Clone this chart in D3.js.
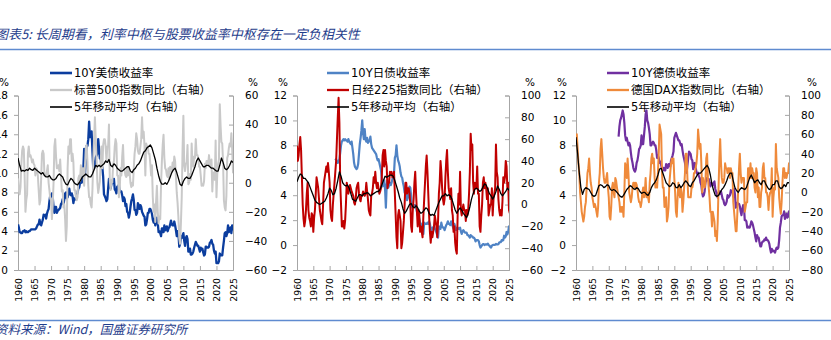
<!DOCTYPE html>
<html><head><meta charset="utf-8">
<script src="https://cdn.jsdelivr.net/npm/d3@7"></script>
<style>body{margin:0;background:#fff}svg{display:block}</style>
</head><body>
<svg id="c" width="831" height="340"></svg>
<script>
// ---------- tick labels ----------
const xTickYears = [1960,1965,1970,1975,1980,1985,1990,1995,2000,2005,2010,2015,2020,2025];
const titleText = "图表5: 长周期看，利率中枢与股票收益率中枢存在一定负相关性";
const sourceText = "资料来源：Wind，国盛证券研究所";

// ---------- Panel 1: US (quarterly from 1960.0) ----------
const usYield = [
4.7,4.4,3.9,3.9, 3.8,3.8,4.0,4.0, 4.1,3.9,4.0,3.9, 3.9,4.0,4.0,4.1, 4.2,4.2,4.2,4.2,
4.2,4.2,4.3,4.5, 4.7,4.7,5.2,4.8, 4.6,4.9,5.2,5.7, 5.6,5.7,5.3,5.8, 6.1,6.3,7.1,7.7,
7.6,7.9,7.5,6.5, 5.9,6.5,6.5,5.9, 6.1,6.2,6.3,6.4, 6.8,6.9,7.3,6.8, 7.3,7.9,8.0,7.4,
7.5,8.0,8.4,7.8, 7.7,7.9,7.6,6.9, 7.4,7.3,7.3,7.7, 8.0,8.4,8.5,9.0, 9.1,9.0,9.3,10.4,
12.5,9.8,11.5,12.8, 12.8,13.5,15.3,13.7, 14.1,14.3,12.3,10.5, 10.5,11.0,11.6,11.8, 12.0,13.5,12.5,11.5,
11.6,10.5,10.6,9.6, 7.8,7.6,7.4,7.1, 7.3,8.4,9.4,8.9, 8.4,8.9,9.0,9.0, 9.4,8.3,8.2,7.9,
8.6,8.5,8.8,8.1, 8.1,8.1,7.7,7.1, 7.5,7.3,6.6,6.8, 6.0,5.9,5.4,5.8, 6.5,7.1,7.4,7.8,
7.2,6.2,6.2,5.7, 5.9,6.9,6.7,6.3, 6.7,6.5,6.0,5.8, 5.6,5.5,4.6,4.7, 5.2,5.9,5.9,6.3,
6.3,6.1,5.8,5.2, 4.9,5.3,4.6,5.0, 5.4,4.9,3.9,4.0, 3.8,3.5,4.3,4.3, 3.9,4.6,4.1,4.2,
4.5,4.0,4.3,4.4, 4.7,5.1,4.7,4.6, 4.6,5.0,4.6,4.1, 3.5,4.0,3.8,2.4, 2.7,3.5,3.3,3.6,
3.8,3.0,2.5,3.3, 3.5,3.2,1.9,1.9, 2.2,1.6,1.6,1.7, 1.9,2.3,2.6,2.9, 2.7,2.5,2.5,2.2,
1.9,2.3,2.1,2.2, 1.8,1.5,1.6,2.4, 2.4,2.3,2.3,2.4, 2.8,2.9,3.1,2.7, 2.6,2.0,1.7,1.9,
0.7,0.7,0.7,0.9, 1.7,1.5,1.5,1.5, 2.3,3.0,3.8,3.9, 3.5,3.8,4.6,3.9, 4.2,4.4,3.8,4.6,
4.2,4.4];
const spYoY = [
3,-5,-8,-3, 12,22,25,23, 5,-20,-12,-8, 20,25,18,19, 17,14,16,13,
12,5,10,9, 5,-5,-15,-12, 3,20,22,20, 5,5,5,8, 12,0,-5,-11,
-12,-25,-15,0, 25,30,18,10, 10,12,8,16, 5,-6,-5,-17, -15,-25,-40,-30,
10,25,20,30, 30,15,20,14, -5,-5,-10,-12, -10,3,5,1, 12,5,10,10,
-2,12,24,26, 15,-2,-10,-10, -15,-17,-5,15, 30,45,30,17, 0,-7,-3,1,
15,25,10,26, 30,30,25,15, 25,25,40,2, -5,2,0,12, 15,25,30,27,
5,5,-10,-5, 10,5,18,26, 10,8,5,4, 10,5,10,7, 0,-3,0,-2,
10,20,25,34, 30,22,20,20, 25,30,45,31, 35,25,5,27, 25,25,20,20,
13,5,12,-10, -20,-15,-27,-13, -2,-20,-28,-23, -25,-1,15,26, 33,17,10,9,
5,4,10,3, 11,8,8,14, 10,18,15,4, -7,-14,-24,-38, -42,-28,-10,23,
46,12,8,13, 14,26,-1,0, 6,2,27,13, 11,18,17,30, 19,19,17,11,
11,5,-2,-1, -2,1,13,10, 15,15,13,19, 12,12,16,-6, 7,7,2,29,
-10,6,13,16, 54,39,28,27, 14,-12,-17,-19, -9,17,19,24, 27,25,34,23,
7,12];
// 5-year moving average, half-yearly from 1960.0
const spMA = [
17,12, 8,8.5, 8,9, 8.5,10, 9,8.5, 10,9, 8,7, 6,7, 5,4, 4,5,
3,2, 2,3, 5,6, 5,4, 1,-1, -1.5,1, 3,2, 0,-1, -1.5,0, 2,4,
5,6, 5,4, 4,6, 9,12, 11,12, 11,12, 13,15, 14,16, 12,11, 13,12,
10,9, 8,8, 9,10, 11,11, 8,7, 9,10, 12,13, 15,18, 21,22, 24,25,
26,24, 20,16, 10,5, 1,-1, -1,0, -1,1, 4,7, 9,10, 7,3, -1,-2,
1,3, 4,3, 3,5, 8,11, 15,17, 15,13, 11,11, 12,12, 11,10, 10,9,
8,8, 12,17, 14,10, 9,10, 12,15, 14];

// ---------- Panel 2: Japan ----------
// JGB 10Y, quarterly from 1971.75
const jgbYield = [6.8,
6.9,6.7,6.6,6.7, 6.9,7.4,8.0,8.3, 8.4,8.5,8.4,8.5, 8.4,8.4,8.3,8.5, 8.3,8.2,8.1,8.3,
7.8,7.3,6.6,6.3, 6.2,6.1,6.2,6.5, 7.3,8.1,8.6,9.2, 10.0,9.0,8.5,9.3, 8.5,8.3,8.6,8.2,
8.3,8.4,8.7,8.1, 7.8,7.7,7.6,7.5, 7.4,7.3,7.0,6.8, 6.9,6.6,6.3,6.0, 5.3,4.7,4.9,5.2,
4.5,3.0,4.8,5.2, 4.6,4.8,5.0,4.8, 5.0,5.3,5.5,5.8, 7.0,7.2,8.0,7.2, 6.8,6.6,6.3,5.8,
5.5,5.4,5.0,4.7, 4.2,4.4,3.9,3.6, 3.8,4.2,4.7,4.6, 3.9,3.0,3.0,3.1, 3.2,3.2,3.0,2.7,
2.4,2.4,2.1,1.8, 1.7,1.5,1.2,0.9, 1.8,1.7,1.7,1.7, 1.8,1.7,1.9,1.7, 1.3,1.2,1.4,1.4,
1.5,1.3,1.2,1.0, 0.8,0.6,1.5,1.4, 1.3,1.8,1.5,1.4, 1.4,1.2,1.4,1.6, 1.7,1.9,1.7,1.7,
1.6,1.9,1.7,1.5, 1.3,1.7,1.5,1.2, 1.3,1.4,1.3,1.3, 1.4,1.1,0.9,1.1, 1.2,1.1,1.0,1.0,
1.0,0.8,0.8,0.7, 0.6,0.8,0.7,0.7, 0.6,0.6,0.5,0.3, 0.4,0.4,0.4,0.3, 0.0,-0.2,-0.1,0.0,
0.07,0.08,0.0,0.05, 0.05,0.04,0.12,0.0, -0.05,-0.15,-0.2,-0.05, 0.0,0.02,0.02,0.02, 0.1,0.05,0.05,0.07,
0.2,0.23,0.24,0.4, 0.35,0.4,0.75,0.6, 0.7,1.05,0.85,1.05, 1.5,1.4];
// Nikkei 225 YoY, quarterly from 1960.0
const nkYoY = [
54,40,45,55, 62,50,25,0, -13,-20,-15,-5, 10,20,-5,-12, -15,-20,-8,-10,
-25,-12,-5,10, 25,20,15,5, -5,-10,-15,-18, 0,20,25,30, 35,30,38,30,
20,-5,-12,-15, 0,10,20,30, 40,60,80,98, 75,20,0,-20, -20,-15,-22,-15,
0,20,15,10, 15,18,15,12, 10,8,2,0, 5,15,18,20, 10,5,3,8,
8,12,10,8, 10,20,12,5, -5,-8,-10,8, 10,15,25,20, 30,20,15,20,
15,10,12,15, 25,45,50,35, 50,40,35,15, 20,20,30,28, 30,25,25,30,
10,-10,-30,-40, -10,-5,-10,-15, -40,-35,-25,-15, 0,20,20,10, 15,15,10,0,
-20,-25,-5,5, 20,30,10,-5, -20,-5,-10,-25, -20,-25,-30,-10, 5,20,35,45,
30,10,-10,-25, -35,-25,-30,-25, -20,-10,-15,-20, -30,-15,10,20, 40,30,15,5,
0,5,25,40, 50,30,15,10, 5,15,-5,-10, -25,-20,-35,-42, -45,-10,10,0,
30,-5,-10,-5, 0,-5,-5,-15, -5,-10,-5,10, 30,65,50,55, 20,10,20,15,
15,35,10,10, -20,-25,-10,0, 20,25,15,20, 15,5,15,-10, -5,0,0,15,
-10,5,10,15, 55,30,25,5, -5,-10,-5,-10, 3,25,20,25, 40,35,15,20,
-5,-8];
const nkMA = [
21,25, 28,27, 24,24, 22,20, 16,12, 8,4, 2,1, 0,1, 2,3, 6,10,
15,13, 9,10, 15,22, 30,26, 20,18, 17,18, 15,10, 5,4, 3,6, 9,9,
8,10, 10,11, 10,8, 9,10, 11,12, 12,14, 18,22, 26,25, 26,27, 27,26,
22,17, 12,6, 2,-4, -8,-6, -3,0, 1,-2, -3,-1, -3,-6, -8,-7, -5,-3,
-4,-8, -10,-9, -10,-6, -2,2, 5,8, 8,10, 8,9, 8,5, 0,-5, -8,-5,
-3,-5, -8,-10, -12,-8, -2,5, 10,14, 15,14, 12,13, 16,19, 18,14, 10,8,
5,8, 12,17, 14,10, 8,10, 12,15, 13];

// ---------- Panel 3: Germany ----------
// Bund 10Y, quarterly from 1973.0
const bundYield = [
8.7,9.5,10.0,10.2, 10.5,10.8,10.5,9.8, 8.8,8.4,8.6,8.3, 8.0,8.2,8.0,7.4, 6.9,6.6,6.2,6.0,
5.9,6.1,6.6,6.8, 7.2,7.7,7.8,8.0, 8.8,8.1,8.1,8.8, 9.5,10.5,10.8,10.0, 9.8,9.4,8.9,8.0,
8.0,8.2,8.3,8.2, 8.0,8.0,7.6,7.0, 7.2,7.0,6.6,6.7, 6.4,6.1,6.0,6.2, 6.0,6.0,6.5,6.3,
6.2,6.5,6.5,6.3, 6.8,7.0,7.2,7.5, 8.6,8.8,9.0,8.8, 8.6,8.4,8.4,8.2, 8.0,8.1,7.6,7.2,
6.9,6.6,6.1,5.8, 6.4,7.0,7.5,7.4, 7.3,6.9,6.8,6.1, 6.5,6.6,6.2,5.9, 5.7,5.8,5.5,5.4,
5.0,4.8,4.2,3.9, 4.0,4.3,5.0,5.2, 5.4,5.2,5.3,5.0, 4.7,5.0,4.9,4.8, 5.0,5.1,4.5,4.3,
4.0,3.8,4.2,4.3, 4.1,4.3,4.0,3.7, 3.6,3.3,3.2,3.3, 3.5,4.0,3.8,3.9, 4.0,4.4,4.3,4.3,
3.9,4.5,4.1,3.0, 3.1,3.4,3.3,3.3, 3.1,2.7,2.4,2.9, 3.2,3.1,2.0,2.0, 1.9,1.4,1.5,1.4,
1.4,1.6,1.9,1.8, 1.6,1.3,1.0,0.6, 0.3,0.8,0.6,0.6, 0.2,-0.1,-0.1,0.2, 0.3,0.3,0.45,0.4,
0.6,0.4,0.4,0.3, 0.1,-0.3,-0.6,-0.3, -0.5,-0.45,-0.5,-0.6, -0.35,-0.2,-0.3,-0.2, 0.4,1.4,1.8,2.3,
2.4,2.4,2.7,2.1, 2.4,2.5,2.2,2.3, 2.7,2.6];
// DAX YoY, quarterly from 1960.0
const daxYoY = [
55,60,45,30, 20,0,-10,-20, -25,-30,-25,-15, -10,5,20,25, 35,20,10,5,
-5,-10,-15,-12, -15,-20,-25,-15, 10,20,45,55, 40,25,15,10, 10,15,20,5,
-5,-25,-28,-15, 5,10,0,-5, 15,12,5,0, -5,-10,-20,-15, -20,-15,-25,0,
30,25,15,35, 20,0,-5,-10, -5,5,10,10, 5,10,8,3, -5,-10,-10,-15,
-10,0,5,-5, 0,15,-5,0, -5,-10,10,20, 35,40,30,35, 15,5,10,5,
20,40,70,65, 60,20,5,5, -15,-10,-5,-30, -25,-15,10,20, 30,35,30,35,
15,0,-20,-25, -5,10,0,-5, 5,0,-20,-10, 5,20,40,40, 15,-5,-5,-5,
-5,5,5,10, 20,20,25,30, 40,65,55,45, 50,30,0,15, 10,5,10,35,
40,15,5,-5, -20,-20,-35,-20, -25,-30,-45,-40, -50,-30,5,35, 55,30,15,10,
10,15,30,25, 25,20,25,25, 15,25,20,20, -10,-20,-30,-40, -40,-20,5,25,
40,20,10,15, 15,15,-20,-15, -10,-10,25,25, 15,30,15,25, 20,20,5,0,
25,20,-5,5, -15,-15,0,5, 25,30,15,15, 0,0,-5,-18, -5,0,0,25,
-25,-5,5,3, 50,25,20,15, -5,-15,-22,-10, 10,25,25,15, 20,15,20,20,
30,28];
const daxMA = [
57,40, 20,5, -2,3, 5,4, 3,0, -3,-4, -3,2, 7,8, 7,5, 6,8,
7,3, 2,3, 2,0, -2,-4, -5,-3, 0,3, 5,7, 6,4, 3,5, 4,1,
-1,0, 0,-2, -3,0, 5,8, 10,13, 18,24, 25,20, 15,10, 8,6, 7,10,
9,5, 5,8, 5,7, 10,12, 10,7, 6,10, 12,15, 18,20, 20,22, 24,26,
28,25, 18,8, 2,-3, -4,-3, 0,3, 5,8, 12,17, 20,20, 12,5, 2,0,
3,5, 4,3, 5,10, 15,18, 14,10, 12,13, 10,8, 12,12, 8,5, 3,4,
8,8, 12,12, 6,4, 5,8, 6,10, 10];

// ---------- helpers ----------
const toPts = (arr, start, step) => arr.map((v,i)=>[start+i*step, v]);
const FONT = "'DejaVu Sans','Noto Sans CJK SC',sans-serif";
const CJK = "'Noto Sans CJK SC','DejaVu Sans',sans-serif";
const TOP = 95.5, BOTTOM = 270;
const AXIS_COLOR = "#a6a6a6";

const panels = [
  {x0:18, x1:233, L:[0,18], R:[-60,60], pctR:253, legX:50,
   series:[
     {d:toPts(usYield,1960,0.25), ax:'L', c:'#0b3d9e', w:2.3},
     {d:toPts(spYoY,1960,0.25), ax:'R', c:'#c9c9c9', w:2},
     {d:toPts(spMA,1960,0.5), ax:'R', c:'#000', w:1.3}],
   legend:["10Y美债收益率","标普500指数同比（右轴）","5年移动平均（右轴）"]},
  {x0:297, x1:509, L:[-2,12], R:[-60,100], pctR:530, legX:327,
   series:[
     {d:toPts(jgbYield,1971.75,0.25), ax:'L', c:'#4f83c5', w:2.2},
     {d:toPts(nkYoY,1960,0.25), ax:'R', c:'#c00000', w:2},
     {d:toPts(nkMA,1960,0.5), ax:'R', c:'#000', w:1.3}],
   legend:["10Y日债收益率","日经225指数同比（右轴）","5年移动平均（右轴）"]},
  {x0:576, x1:789, L:[-2,12], R:[-80,100], pctR:812, legX:607,
   series:[
     {d:toPts(bundYield,1973,0.25), ax:'L', c:'#7030a0', w:2.2},
     {d:toPts(daxYoY,1960,0.25), ax:'R', c:'#ef8a3b', w:2},
     {d:toPts(daxMA,1960,0.5), ax:'R', c:'#000', w:1.3}],
   legend:["10Y德债收益率","德国DAX指数同比（右轴）","5年移动平均（右轴）"]}
];

const svg = d3.select('#c');
svg.append('rect').attr('width',831).attr('height',340).attr('fill','#fff');

// title + rules
svg.append('text').attr('x',-5).attr('y',39).attr('font-family',CJK).attr('font-size',13)
  .attr('font-style','italic').attr('fill','#1f3d8c').text(titleText);
svg.append('line').attr('x1',0).attr('x2',831).attr('y1',49.5).attr('y2',49.5)
  .attr('stroke','#5f8bd0').attr('stroke-width',1.6);
svg.append('line').attr('x1',0).attr('x2',831).attr('y1',320.5).attr('y2',320.5)
  .attr('stroke','#5f8bd0').attr('stroke-width',1.6);
svg.append('text').attr('x',-5).attr('y',334).attr('font-family',CJK).attr('font-size',12.5)
  .attr('font-style','italic').attr('fill','#1f3d8c').text(sourceText);

panels.forEach((p,pi)=>{
  const g = svg.append('g');
  const x = d3.scaleLinear().domain([1960,2025]).range([p.x0,p.x1]);
  const yL = d3.scaleLinear().domain(p.L).range([BOTTOM,TOP]);
  const yR = d3.scaleLinear().domain(p.R).range([BOTTOM,TOP]);

  const leftAxis = d3.axisLeft(yL).tickValues(d3.range(p.L[0],p.L[1]+0.001,2)).tickSize(4).tickPadding(6);
  const rightAxis = d3.axisRight(yR).tickValues(d3.range(p.R[0],p.R[1]+0.001,20)).tickSize(-4).tickPadding(16);
  const bottomAxis = d3.axisBottom(x).tickValues(xTickYears).tickSize(-4).tickFormat(d3.format('d'));

  const gl = g.append('g').attr('transform',`translate(${p.x0},0)`).call(leftAxis);
  const gr = g.append('g').attr('transform',`translate(${p.x1},0)`).call(rightAxis);
  const gb = g.append('g').attr('transform',`translate(0,${BOTTOM})`).call(bottomAxis);
  [gl,gr,gb].forEach(a=>{
    a.select('.domain').attr('stroke',AXIS_COLOR);
    a.selectAll('.tick line').attr('stroke',AXIS_COLOR);
    a.selectAll('text').attr('fill','#000').attr('font-family',FONT).attr('font-size',10.5);
  });
  gr.selectAll('text').attr('text-anchor','start').attr('x',12);
  gl.selectAll('text').attr('x',-10);
  gb.selectAll('text').attr('font-size',9.3).attr('transform','rotate(-90)')
    .attr('text-anchor','end').attr('x',-8).attr('y',0).attr('dy','0.35em');

  g.append('text').attr('x',p.x0-14).attr('y',86).attr('text-anchor','middle')
    .attr('font-family',FONT).attr('font-size',10.5).text('%');
  g.append('text').attr('x',p.pctR).attr('y',86).attr('text-anchor','middle')
    .attr('font-family',FONT).attr('font-size',10.5).text('%');

  const clipId = 'clip'+pi;
  svg.append('clipPath').attr('id',clipId).append('rect')
    .attr('x',p.x0).attr('y',TOP-4).attr('width',p.x1-p.x0).attr('height',BOTTOM-TOP+4);
  const lg = g.append('g').attr('clip-path',`url(#${clipId})`);
  p.series.forEach(s=>{
    const sc = s.ax==='L'?yL:yR;
    lg.append('path').datum(s.d).attr('fill','none').attr('stroke',s.c)
      .attr('stroke-width',s.w).attr('stroke-linejoin','round')
      .attr('d', d3.line().x(d=>x(d[0])).y(d=>sc(d[1])));
  });

  p.legend.forEach((t,i)=>{
    const yy = 73 + i*17;
    const s = p.series[i];
    g.append('line').attr('x1',p.legX).attr('x2',p.legX+22).attr('y1',yy).attr('y2',yy)
      .attr('stroke',s.c).attr('stroke-width',s.w+0.3);
    g.append('text').attr('x',p.legX+24).attr('y',yy).attr('dy','0.36em')
      .attr('font-family',FONT).attr('font-size',11.5).text(t);
  });
});
</script>
</body></html>
